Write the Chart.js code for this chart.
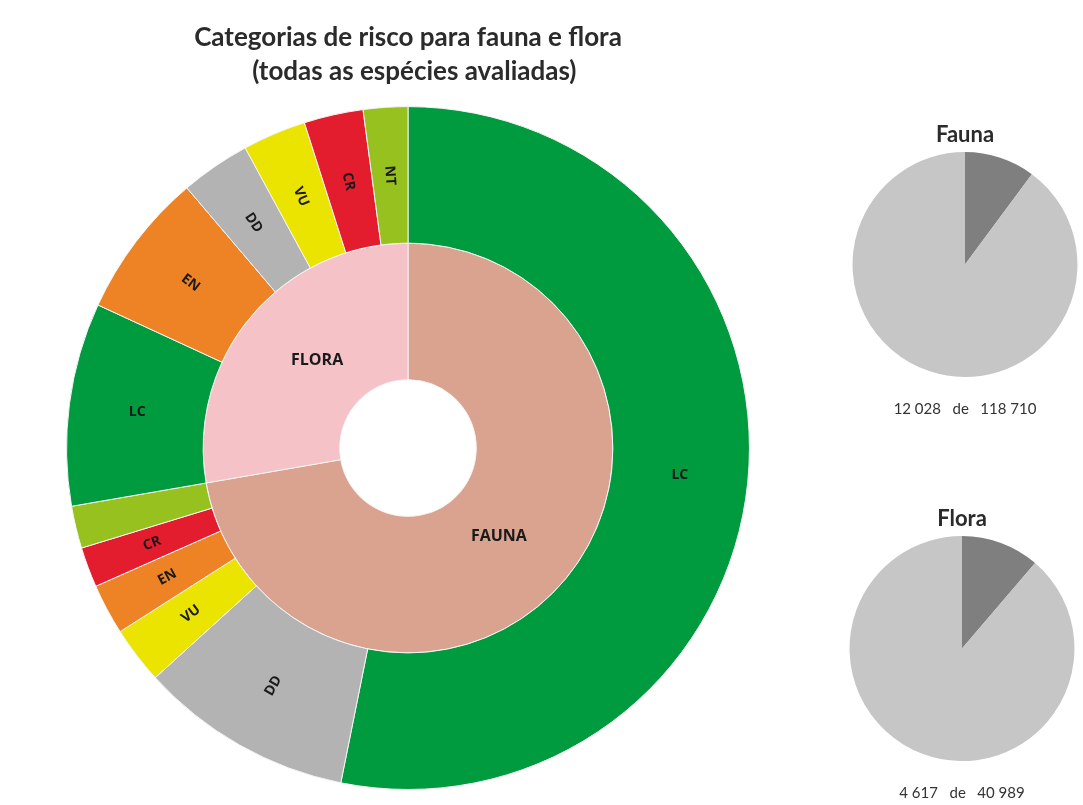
<!DOCTYPE html>
<html>
<head>
<meta charset="utf-8">
<script src="https://cdn.jsdelivr.net/npm/chart.js@4.4.1/dist/chart.umd.min.js"></script>
<style>
  body { margin: 0; background: #fff; width: 1083px; height: 805px; overflow: hidden; position: relative; }
  .box { position: absolute; }
</style>
</head>
<body>
<div class="box" style="left:0;top:0;width:816px;height:805px"><canvas id="mainChart"></canvas></div>
<div class="box" style="left:845px;top:110px;width:240px;height:320px"><canvas id="faunaChart"></canvas></div>
<div class="box" style="left:842px;top:494px;width:240px;height:311px"><canvas id="floraChart"></canvas></div>
<script>
// outer ring: fauna categories then flora categories (% of all assessed species)
const outerLabels = ['LC', 'DD', 'VU', 'EN', 'CR', 'NT', 'LC', 'EN', 'DD', 'VU', 'CR', 'NT'];
const outerValues = [53.1, 10.1, 2.7, 2.4, 1.9, 2.0, 9.6, 6.9, 3.3, 3.0, 2.8, 2.1];
const outerShown = [true, true, true, true, true, false, true, true, true, true, true, true];

// inner ring
const innerLabels = ['FAUNA', 'FLORA'];
const innerValues = [72.2, 27.7];

// small pies: threatened vs assessed
const faunaValues = [12028, 106682];
const faunaTotal = 118710;
const floraValues = [4617, 36372];
const floraTotal = 40989;

const catColors = {
  LC: '#009a3f',
  NT: '#97c11f',
  CR: '#e31d2e',
  VU: '#ebe300',
  EN: '#ee8325',
  DD: '#b3b3b3'
};
const groupColors = { FAUNA: '#d9a38f', FLORA: '#f5c2c7' };

const FONT = 'Lato, "Open Sans", sans-serif';
const LABEL_FONT = '"Open Sans", sans-serif';

const sliceLabels = {
  id: 'sliceLabels',
  afterDatasetsDraw(chart) {
    const ctx = chart.ctx;
    ctx.save();
    ctx.fillStyle = '#1a1a1a';
    ctx.textAlign = 'center';
    ctx.textBaseline = 'middle';

    chart.getDatasetMeta(0).data.forEach((arc, i) => {
      if (!outerShown[i]) return;
      const p = arc.getProps(['x', 'y', 'startAngle', 'endAngle', 'innerRadius', 'outerRadius']);
      const mid = (p.startAngle + p.endAngle) / 2;
      const r = (p.innerRadius + p.outerRadius) / 2;
      let rot = 0;
      if (outerLabels[i] !== 'LC') {
        rot = Math.cos(mid) < 0 ? mid - Math.PI : mid;
      }
      ctx.save();
      ctx.translate(p.x + Math.cos(mid) * r, p.y + Math.sin(mid) * r);
      ctx.rotate(rot);
      ctx.font = 'bold 14px ' + LABEL_FONT;
      ctx.fillText(outerLabels[i], 0, 0);
      ctx.restore();
    });

    chart.getDatasetMeta(1).data.forEach((arc, i) => {
      const p = arc.getProps(['x', 'y', 'startAngle', 'endAngle', 'innerRadius', 'outerRadius']);
      const mid = (p.startAngle + p.endAngle) / 2 + 0.07;
      const r = (p.innerRadius + p.outerRadius) / 2 - 10;
      ctx.font = 'bold 16px ' + LABEL_FONT;
      ctx.fillText(innerLabels[i], p.x + Math.cos(mid) * r, p.y + Math.sin(mid) * r);
    });
    ctx.restore();
  }
};

new Chart(document.getElementById('mainChart'), {
  type: 'doughnut',
  data: {
    labels: outerLabels,
    datasets: [
      {
        data: outerValues,
        backgroundColor: outerLabels.map(l => catColors[l]),
        borderColor: '#f4f4f4',
        borderWidth: 1
      },
      {
        data: innerValues,
        backgroundColor: innerLabels.map(l => groupColors[l]),
        borderColor: '#f4f4f4',
        borderWidth: 1
      }
    ]
  },
  options: {
    responsive: true,
    maintainAspectRatio: false,
    animation: false,
    cutout: '20%',
    layout: { padding: { left: 66, right: 66, top: 0, bottom: 15 } },
    plugins: {
      legend: { display: false },
      tooltip: { enabled: false },
      title: {
        display: true,
        text: ['Categorias de risco para fauna e flora', '  (todas as espécies avaliadas)'],
        color: '#2b2b2b',
        font: { family: FONT, size: 26, weight: 'bold', lineHeight: 1.31 },
        padding: { top: 21, bottom: 17 }
      }
    }
  },
  plugins: [sliceLabels]
});

function fmt(n) {
  return n.toString().replace(/\B(?=(\d{3})+(?!\d))/g, ' ');
}

function smallPie(id, title, values, total, bottomPad) {
  return new Chart(document.getElementById(id), {
    type: 'pie',
    data: {
      labels: ['ameaçadas', 'restantes'],
      datasets: [{
        data: values,
        backgroundColor: ['#7f7f7f', '#c6c6c6'],
        borderWidth: 0
      }]
    },
    options: {
      responsive: true,
      maintainAspectRatio: false,
      animation: false,
      plugins: {
        legend: { display: false },
        tooltip: { enabled: false },
        title: {
          display: true,
          text: title,
          color: '#2b2b2b',
          font: { family: FONT, size: 22, weight: 'bold', lineHeight: 1.05 },
          padding: { top: 13, bottom: 6 }
        },
        subtitle: {
          display: true,
          position: 'bottom',
          text: fmt(values[0]) + '   de   ' + fmt(total),
          color: '#333',
          font: { family: FONT, size: 15, lineHeight: 1.2 },
          padding: { top: 23, bottom: bottomPad }
        }
      }
    }
  });
}

smallPie('faunaChart', 'Fauna', faunaValues, faunaTotal, 12);
smallPie('floraChart', 'Flora', floraValues, floraTotal, 3);
</script>
</body>
</html>
